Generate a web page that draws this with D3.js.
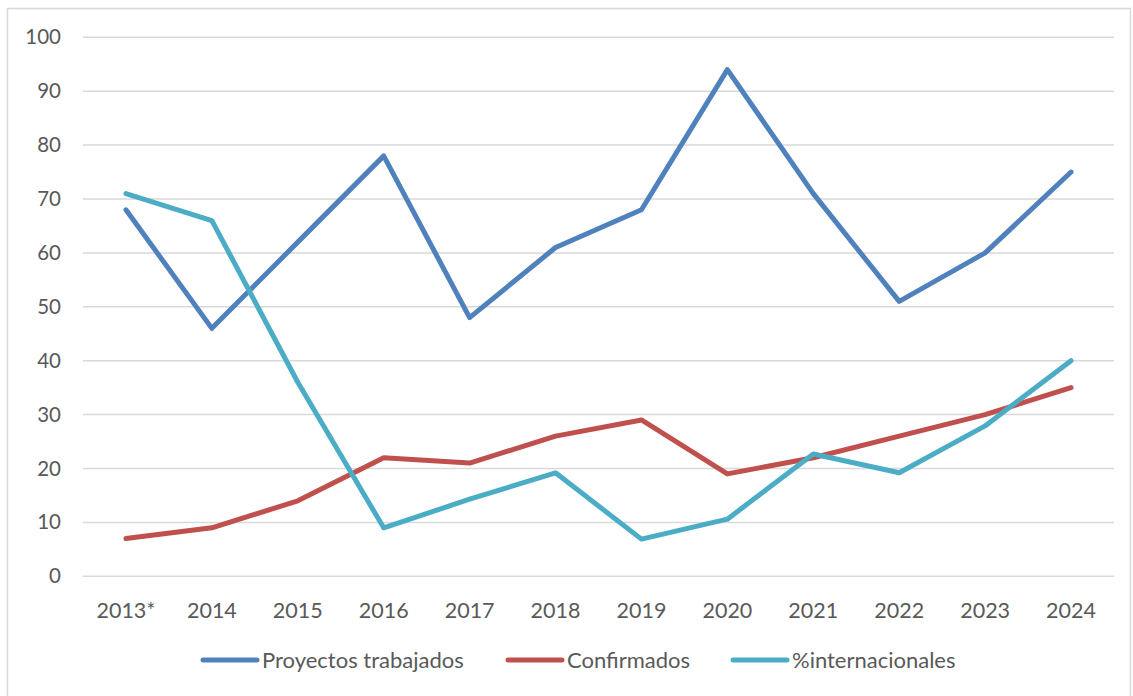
<html>
<head>
<script src="https://d3js.org/d3.v7.min.js"></script>
<style>
body { margin: 0; background: #fff; }
svg text { font-family: Lato, "Open Sans", sans-serif; fill: #595959; }
</style>
</head>
<body>
<svg id="chart"></svg>
<script>
// data
var years = ["2013*", "2014", "2015", "2016", "2017", "2018", "2019", "2020", "2021", "2022", "2023", "2024"];
var proyectos = [68, 46, 62, 78, 48, 61, 68, 94, 71, 51, 60, 75];
var confirmados = [7, 9, 14, 22, 21, 26, 29, 19, 22, 26, 30, 35];
var internacionales = [71, 66, 36, 9, 14.3, 19.2, 6.9, 10.6, 22.7, 19.2, 27.9, 40];
var yTicks = [0, 10, 20, 30, 40, 50, 60, 70, 80, 90, 100];

var series = [
    { name: "Proyectos trabajados", values: proyectos, color: "#4f81bd" },
    { name: "Confirmados", values: confirmados, color: "#c0504d" },
    { name: "%internacionales", values: internacionales, color: "#4bacc6" }
];

var W = 1133, H = 696;
var m = { left: 83, right: 1114, top: 37.3, bottom: 576.3 };

var svg = d3.select("#chart").attr("width", W).attr("height", H);

// outer frame
svg.append("rect")
    .attr("x", 7.5).attr("y", 8.5)
    .attr("width", 1123).attr("height", 700)
    .attr("fill", "none").attr("stroke", "#d9d9d9").attr("stroke-width", 1.5);

var x = d3.scaleBand().domain(years).range([m.left, m.right]);
var y = d3.scaleLinear().domain([0, 100]).range([m.bottom, m.top]);

// gridlines
svg.append("g").selectAll("line")
    .data(yTicks)
    .enter().append("line")
    .attr("x1", m.left).attr("x2", m.right)
    .attr("y1", function(d) { return y(d); })
    .attr("y2", function(d) { return y(d); })
    .attr("stroke", "#d9d9d9").attr("stroke-width", 1.5);

// y axis labels
var yAxis = svg.append("g")
    .attr("transform", "translate(" + (m.left - 22) + ",0)")
    .call(d3.axisLeft(y).tickValues(yTicks).tickSize(0).tickPadding(0));
yAxis.select(".domain").remove();
yAxis.selectAll("text")
    .attr("font-size", 20.5).attr("fill", "#595959")
    .attr("font-family", "Lato, sans-serif");

// x axis labels
var xAxis = svg.append("g")
    .attr("transform", "translate(0," + (m.bottom + 21) + ")")
    .call(d3.axisBottom(x).tickSize(0).tickPadding(0));
xAxis.select(".domain").remove();
xAxis.selectAll("text")
    .attr("font-size", 21.5).attr("fill", "#595959")
    .attr("font-family", "Lato, sans-serif")
    .attr("dy", "0.95em");

var line = d3.line()
    .x(function(d, i) { return x(years[i]) + x.bandwidth() / 2; })
    .y(function(d) { return y(d); });

svg.append("g").selectAll("path")
    .data(series)
    .enter().append("path")
    .attr("d", function(d) { return line(d.values); })
    .attr("fill", "none")
    .attr("stroke", function(d) { return d.color; })
    .attr("stroke-width", 5)
    .attr("stroke-linecap", "round")
    .attr("stroke-linejoin", "round");

// legend
var legendX = [203, 508, 733];
var lg = svg.append("g").selectAll("g")
    .data(series)
    .enter().append("g")
    .attr("transform", function(d, i) { return "translate(" + legendX[i] + ",660)"; });
lg.append("line")
    .attr("x1", 0).attr("x2", 54)
    .attr("stroke", function(d) { return d.color; })
    .attr("stroke-width", 5)
    .attr("stroke-linecap", "round");
lg.append("text")
    .attr("x", 59).attr("dy", "0.35em")
    .attr("font-size", 22)
    .text(function(d) { return d.name; });
</script>
</body>
</html>
